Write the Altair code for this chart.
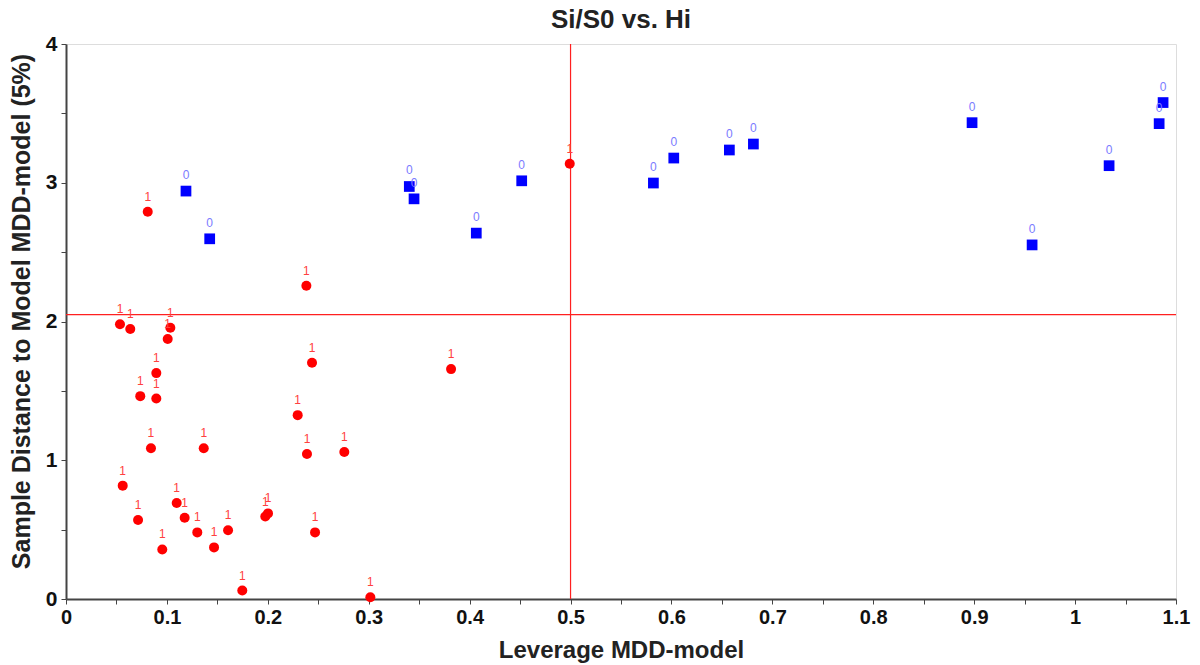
import altair as alt
import pandas as pd

# Class "1" samples (red circles)
red_x = [0.0535, 0.0637, 0.1008, 0.1034, 0.0895, 0.0736, 0.0895, 0.0842, 0.1365, 0.0562,
         0.0714, 0.1097, 0.1176, 0.0954, 0.1301, 0.1467, 0.1606, 0.1747, 0.1975, 0.2002,
         0.2296, 0.2388, 0.2438, 0.2468, 0.2758, 0.3016, 0.2382, 0.3816, 0.0810, 0.4992]
red_y = [1.980, 1.946, 1.874, 1.955, 1.628, 1.462, 1.445, 1.087, 1.087, 0.817,
         0.569, 0.692, 0.586, 0.357, 0.480, 0.372, 0.495, 0.061, 0.594, 0.617,
         1.325, 1.045, 1.703, 0.480, 1.060, 0.013, 2.258, 1.657, 2.791, 3.137]

# Class "0" samples (blue squares)
blue_x = [0.1189, 0.1424, 0.3402, 0.3449, 0.4066, 0.4516, 0.5821, 0.6023, 0.6574, 0.6812,
          0.8979, 0.9574, 1.0337, 1.0833, 1.0872]
blue_y = [2.940, 2.596, 2.973, 2.884, 2.637, 3.014, 2.998, 3.178, 3.236, 3.279,
          3.433, 2.552, 3.123, 3.426, 3.578]

h_limit = 2.049
v_limit = 0.5

x_ticks = [round(i * 0.05, 2) for i in range(23)]
y_ticks = [round(i * 0.5, 1) for i in range(9)]

red_df = pd.DataFrame({"x": red_x, "y": red_y, "cls": "1"})
blue_df = pd.DataFrame({"x": blue_x, "y": blue_y, "cls": "0"})

FONT = "Liberation Sans"

xscale = alt.Scale(domain=[0, 1.1], nice=False, zero=False)
yscale = alt.Scale(domain=[0, 4], nice=False, zero=False)

xaxis = alt.Axis(
    title="Leverage MDD-model", values=x_ticks,
    labelExpr="abs(datum.value*10 - round(datum.value*10)) < 0.001 ? format(datum.value, '.1~f') : ''",
    grid=False, domainColor="#444444", domainWidth=2, tickColor="#444444", tickWidth=1, tickSize=5,
    labelFont=FONT, labelFontSize=20, labelFontWeight="bold", labelColor="#111111", labelPadding=3,
    titleFont=FONT, titleFontSize=24, titleFontWeight="bold", titleColor="#222222",
    titleY=51, titleBaseline="middle", labelFlush=False, labelOverlap=False,
)
yaxis = alt.Axis(
    title="Sample Distance to Model  MDD-model (5%)", values=y_ticks,
    labelExpr="abs(datum.value - round(datum.value)) < 0.001 ? format(datum.value, 'd') : ''",
    grid=False, domainColor="#444444", domainWidth=2, tickColor="#444444", tickWidth=1, tickSize=5,
    labelFont=FONT, labelFontSize=21, labelFontWeight="bold", labelColor="#111111", labelPadding=4,
    titleFont=FONT, titleFontSize=25, titleFontWeight="bold", titleColor="#222222",
    titleX=-45, titleY=267, titleAngle=-90, titleBaseline="middle", titleAlign="center",
    labelFlush=False, labelOverlap=False,
)

base_red = alt.Chart(red_df)
base_blue = alt.Chart(blue_df)

hline = alt.Chart(pd.DataFrame({"y": [h_limit]})).mark_rule(color="#ff2020", strokeWidth=1.2).encode(
    y=alt.Y("y:Q", scale=yscale, axis=yaxis)
)
vline = alt.Chart(pd.DataFrame({"x": [v_limit]})).mark_rule(color="#ff2020", strokeWidth=1.2).encode(
    x=alt.X("x:Q", scale=xscale, axis=xaxis)
)

red_pts = base_red.mark_point(shape="circle", filled=True, size=100, color="#ff0000", opacity=1).encode(
    x=alt.X("x:Q", scale=xscale, axis=xaxis), y=alt.Y("y:Q", scale=yscale, axis=yaxis)
)
red_lbl = base_red.mark_text(dy=-15, fontSize=12, color="#ff4040", font=FONT).encode(
    x=alt.X("x:Q", scale=xscale), y=alt.Y("y:Q", scale=yscale), text="cls:N"
)
blue_pts = base_blue.mark_point(shape="square", filled=True, size=115, color="#0000ff", opacity=1).encode(
    x=alt.X("x:Q", scale=xscale), y=alt.Y("y:Q", scale=yscale)
)
blue_lbl = base_blue.mark_text(dy=-16, fontSize=12, color="#7b7bff", font=FONT).encode(
    x=alt.X("x:Q", scale=xscale), y=alt.Y("y:Q", scale=yscale), text="cls:N"
)

chart = alt.layer(hline, vline, red_pts, red_lbl, blue_pts, blue_lbl).properties(
    width=1110, height=555,
    title=alt.TitleParams("Si/S0 vs. Hi", font=FONT, fontSize=26, fontWeight="bold",
                          color="#222222", anchor="middle", offset=0),
    autosize=alt.AutoSizeParams(type="none"),
    padding={"left": 66, "top": 44, "right": 24, "bottom": 66},
).configure_view(stroke=None).configure(background="white")

chart.save("out.html", embed_options={"renderer": "svg", "actions": False})
